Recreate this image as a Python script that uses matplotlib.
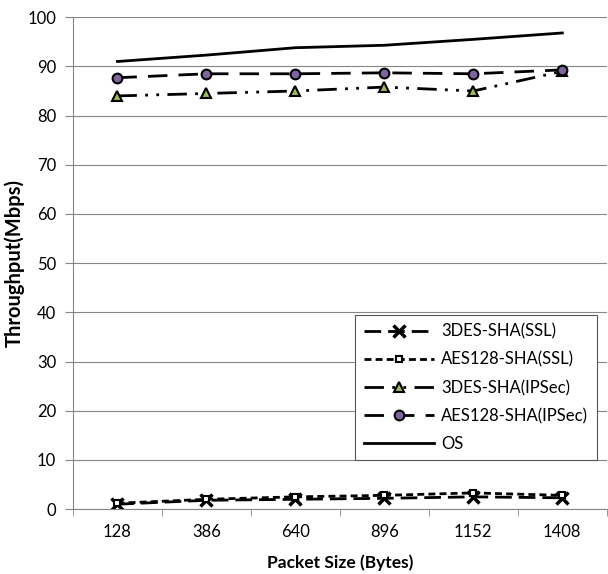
import numpy as np
import matplotlib
matplotlib.use('Agg')
import matplotlib.pyplot as plt

plt.rcParams['font.family'] = ['Lato', 'DejaVu Sans']

sizes = ['128', '386', '640', '896', '1152', '1408']
des_ssl = [1.0, 1.8, 2.0, 2.2, 2.5, 2.3]
aes_ssl = [1.2, 2.0, 2.5, 2.8, 3.3, 2.8]
des_ipsec = [84.0, 84.5, 85.0, 85.8, 85.0, 89.0]
aes_ipsec = [87.7, 88.5, 88.5, 88.7, 88.5, 89.3]
os_tp = [91.0, 92.3, 93.8, 94.3, 95.5, 96.8]

fig = plt.figure(figsize=(6.08, 5.74), dpi=100)
ax = fig.add_axes([0.120, 0.113, 0.878, 0.857])
xn = np.arange(len(sizes))

ax.plot(xn, des_ssl, color='black', lw=2, dashes=(6, 2.5), marker='x',
        ms=9, mew=2.5, label='3DES-SHA(SSL)')
ax.plot(xn, aes_ssl, color='black', lw=2, dashes=(2.5, 1.5), marker='s',
        ms=5, mfc='white', mec='black', mew=1.5, label='AES128-SHA(SSL)')
ax.plot(xn, des_ipsec, color='black', lw=2, dashes=(7, 3, 1, 3, 1, 3),
        marker='^', ms=7, mfc='#9bbb59', mec='black', mew=1.5, label='3DES-SHA(IPSec)')
ax.plot(xn, aes_ipsec, color='black', lw=2, dashes=(7, 4), marker='o',
        ms=7, mfc='#8064a2', mec='black', mew=1.5, label='AES128-SHA(IPSec)')
ax.plot(xn, os_tp, color='black', lw=2, label='OS')

ax.set_xlim(-0.5, 5.5)
ax.set_ylim(0, 100)
ax.set_yticks(range(0, 101, 10))
ax.set_xticks(xn)
ax.set_xticklabels(sizes)
ax.set_xticks(np.arange(-0.5, 6, 1), minor=True)
ax.tick_params(axis='x', which='major', length=0, labelsize=12, pad=11)
ax.tick_params(axis='x', which='minor', length=5, color='#868686', direction='out')
ax.tick_params(axis='y', length=6, color='#868686', labelsize=12, pad=6)

ax.grid(axis='y', color='#868686', lw=0.8)
ax.set_axisbelow(True)
for s in ['top', 'right']:
    ax.spines[s].set_visible(False)
for s in ['left', 'bottom']:
    ax.spines[s].set_color('#868686')

ax.set_xlabel('Packet Size (Bytes)', fontweight='bold', fontsize=12.5, labelpad=10)
ax.set_ylabel('Throughput(Mbps)', fontweight='bold', fontsize=14.5, labelpad=2)

leg = ax.legend(loc='upper right', bbox_to_anchor=(0.981, 0.394),
                fontsize=12, handlelength=4.2, handletextpad=0.45,
                fancybox=False, framealpha=1, edgecolor='#555555',
                borderaxespad=0, labelspacing=0.72, borderpad=0.5)
leg.get_frame().set_linewidth(0.8)

fig.savefig('out.png', dpi=100)
